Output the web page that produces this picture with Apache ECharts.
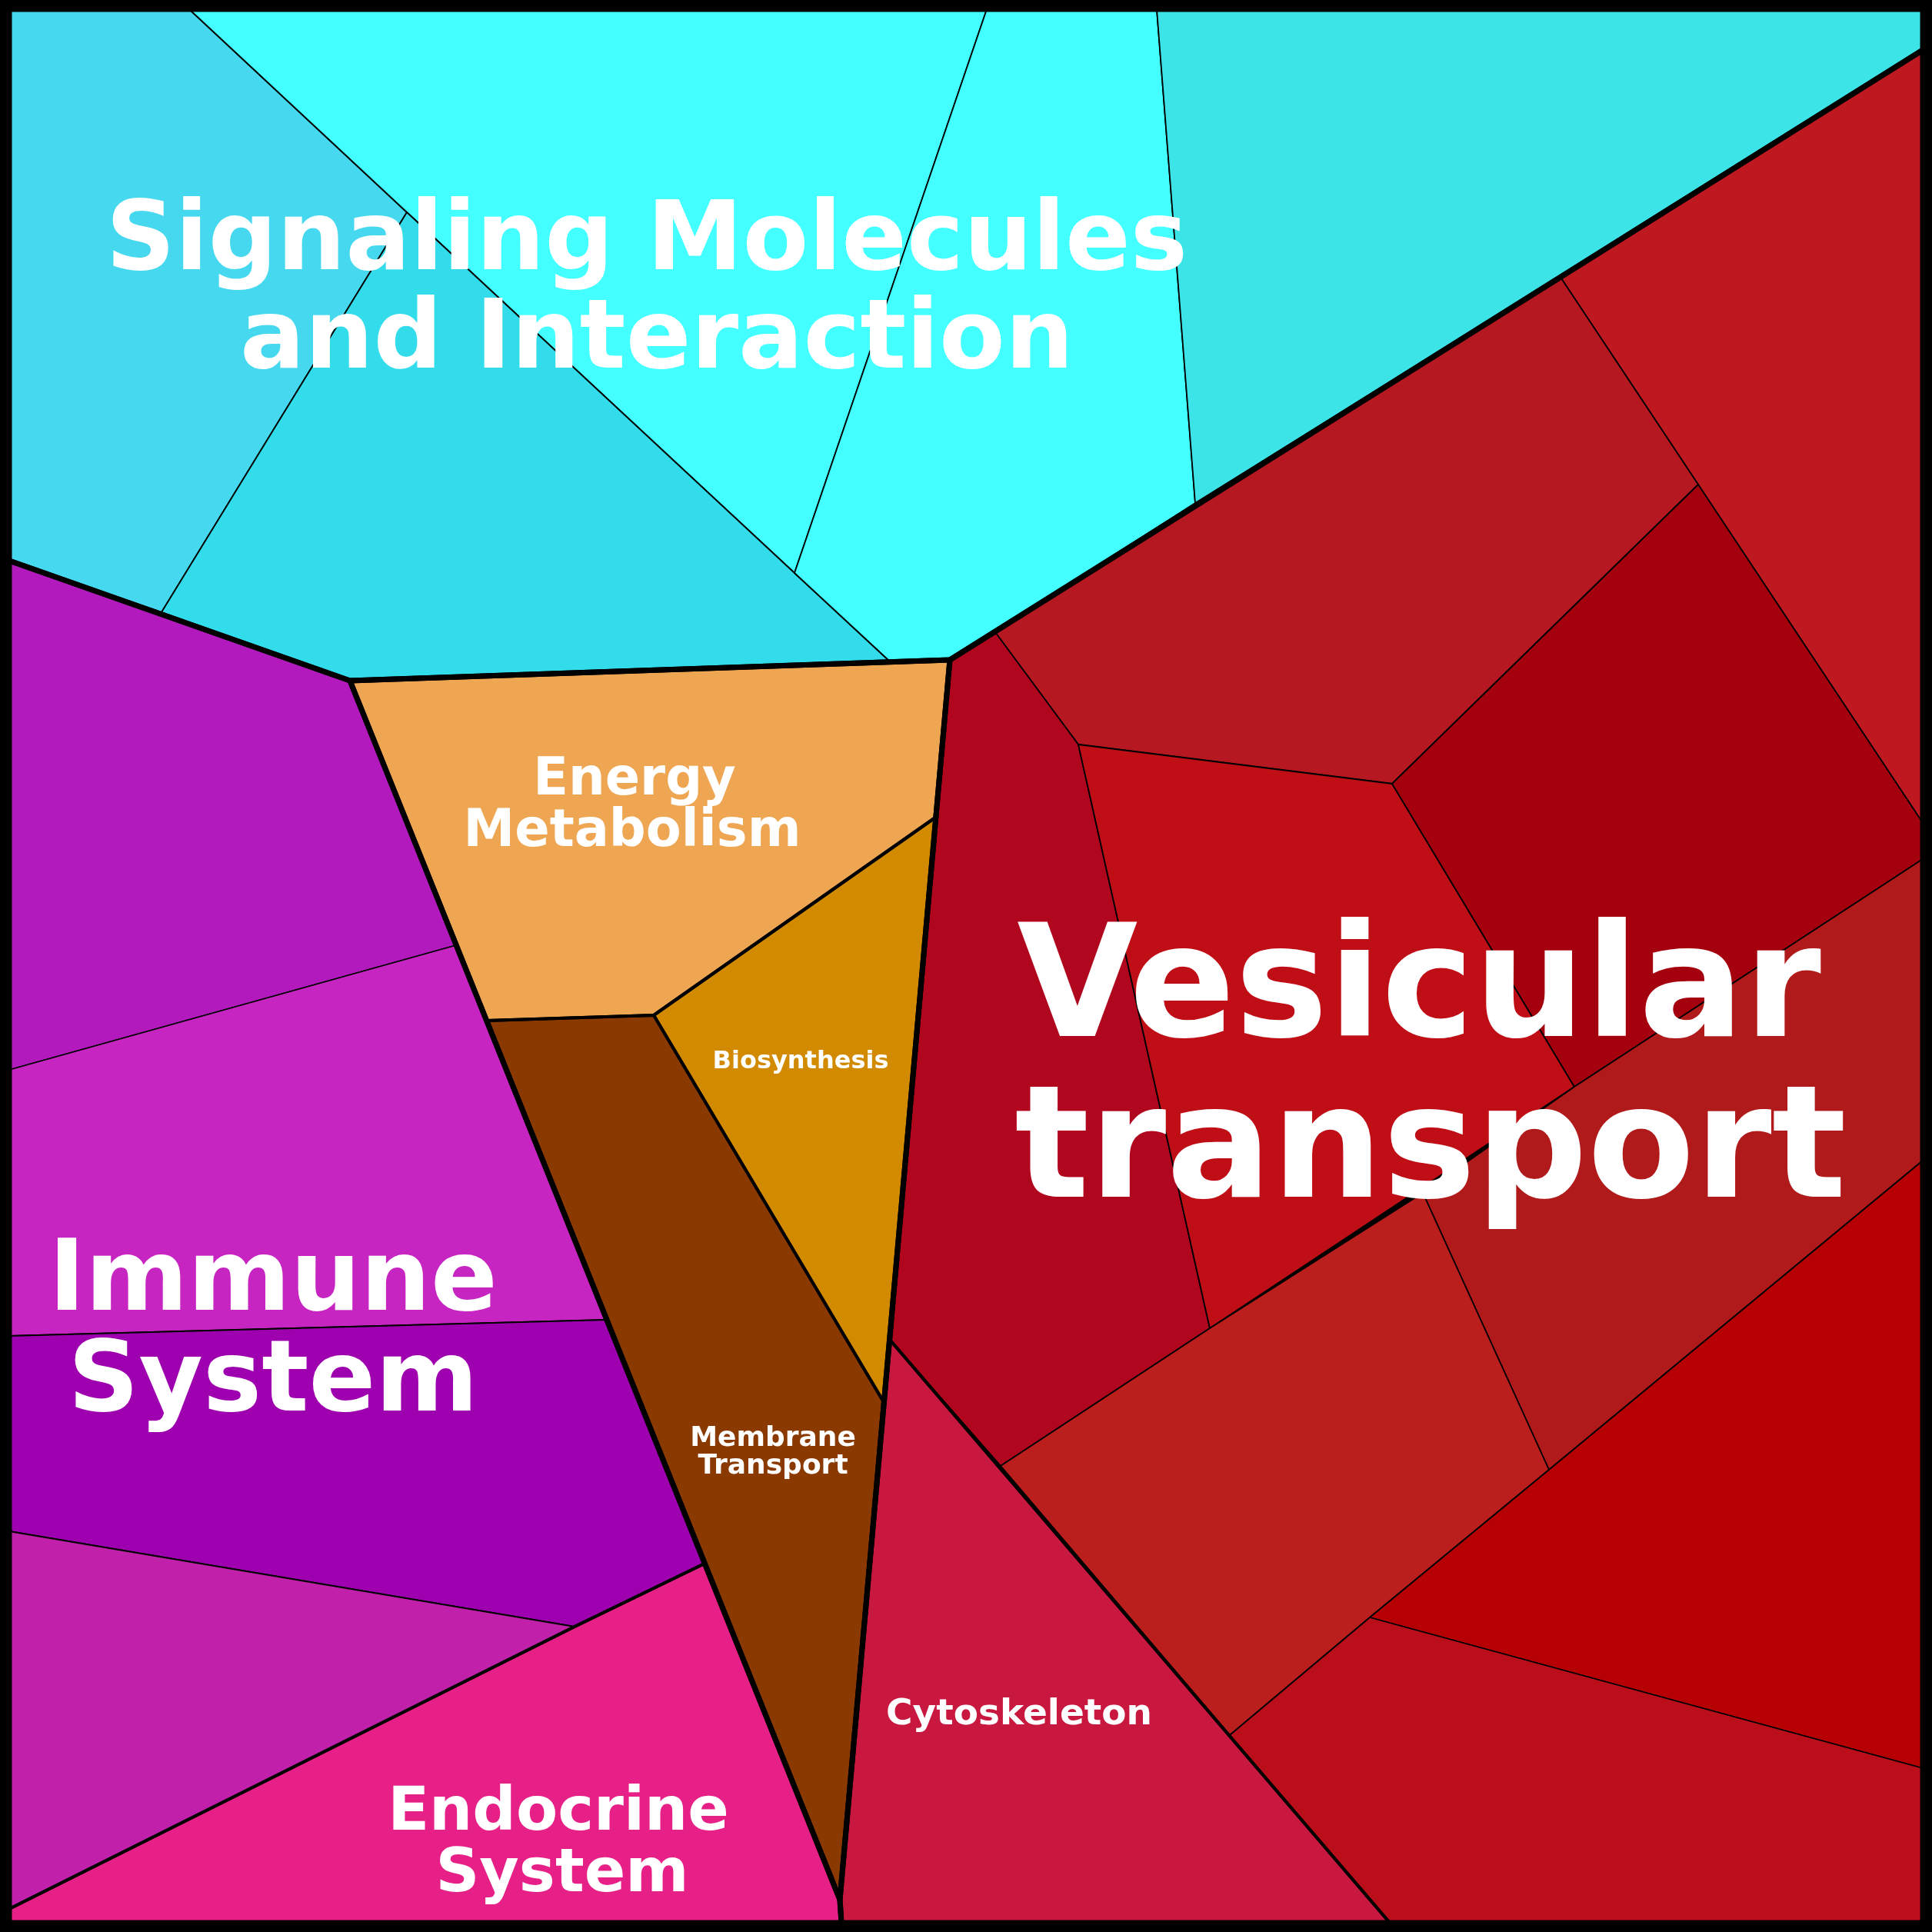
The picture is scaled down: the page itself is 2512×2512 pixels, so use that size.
<!DOCTYPE html>
<html><head><meta charset="utf-8">
<script src="https://cdn.jsdelivr.net/npm/echarts@6/dist/echarts.min.js"></script>
<style>html,body{margin:0;padding:0;background:#000}#c{width:2512px;height:2512px}</style>
</head><body><div id="c"></div>
<script>
// ---- Data: Voronoi treemap cells (vertices in the chart's 0..2512 value space) ----
const leafNames = ['Sig-1','Sig-2','Sig-3','Sig-4','Sig-5',
  'Ves-1','Ves-2','Ves-3','Ves-4','Ves-5','Ves-6','Ves-7','Ves-8','Ves-9',
  'Cytoskeleton','Energy Metabolism','Biosynthesis','Membrane Transport',
  'Imm-1','Imm-2','Imm-3','Imm-4','Endocrine System'];
const leafPolygons = [
  [[12,12],[246,12],[529,276],[210,796],[12,729]],
  [[246,12],[1283,12],[1033,745],[529,276]],
  [[529,276],[1033,745],[1157,860],[455,885],[210,796]],
  [[1283,12],[1504,12],[1554,654],[1235,858],[1157,860],[1033,745]],
  [[1504,12],[2500,12],[2500,65],[1554,654]],
  [[2030,362],[2500,65],[2500,1070],[2208,630]],
  [[1294,822],[2030,362],[2208,630],[1810,1019],[1402,968]],
  [[1235,858],[1294,822],[1402,968],[1573,1727],[1301,1906],[1157,1742]],
  [[1402,968],[1810,1019],[2047,1413],[1573,1727]],
  [[1810,1019],[2208,630],[2500,1070],[2500,1117],[2047,1413]],
  [[2047,1413],[2500,1117],[2500,1509],[2014,1911],[1850,1551]],
  [[1573,1727],[1850,1551],[2014,1911],[1781,2103],[1599,2256],[1301,1906]],
  [[2014,1911],[2500,1509],[2500,2299],[1781,2103]],
  [[1781,2103],[2500,2299],[2500,2500],[1807,2500],[1599,2256]],
  [[1157,1742],[1301,1906],[1599,2256],[1807,2500],[1094,2500],[1092,2470]],
  [[455,885],[1235,858],[1216,1063],[850,1320],[633,1327]],
  [[1216,1063],[850,1320],[1149,1823]],
  [[633,1327],[850,1320],[1149,1823],[1092,2470]],
  [[12,729],[210,796],[455,885],[593,1229],[12,1391]],
  [[12,1391],[593,1229],[789,1716],[12,1737]],
  [[12,1737],[789,1716],[916,2033],[747,2115],[12,1991]],
  [[12,1991],[747,2115],[12,2482]],
  [[747,2115],[916,2033],[1092,2470],[1094,2500],[12,2500],[12,2482]]
];
const leafColors = ['#46D8EE','#44FFFF','#33DCEB','#44FFFF','#3CE4E8',
  '#BE1920','#B51820','#B0061E','#C00E17','#A5000E','#B11A1A','#BA1F1D','#B70003','#BB0E1B',
  '#C8183F','#EEA652','#D28A00','#8A3A00',
  '#B21ABD','#C725C2','#9F00AF','#C020AA','#E62087'];

const subgroupNames = ['Signaling Molecules and Interaction','Vesicular transport','Cytoskeleton',
  'Energy Metabolism','Biosynthesis','Membrane Transport','Immune System','Endocrine System'];
const subgroupPolygons = [
  [[12,12],[2500,12],[2500,65],[1235,858],[455,885],[12,729]],
  [[1235,858],[2500,65],[2500,2500],[1807,2500],[1157,1742]],
  [[1157,1742],[1807,2500],[1094,2500],[1092,2470]],
  [[455,885],[1235,858],[1216,1063],[850,1320],[633,1327]],
  [[1216,1063],[850,1320],[1149,1823]],
  [[633,1327],[850,1320],[1149,1823],[1092,2470]],
  [[12,729],[455,885],[916,2033],[747,2115],[12,2482]],
  [[747,2115],[916,2033],[1092,2470],[1094,2500],[12,2500],[12,2482]]
];
const groupNames = ['Environmental','Cellular Processes','Metabolism','Organismal Systems'];
const groupPolygons = [
  [[12,12],[2500,12],[2500,65],[1235,858],[455,885],[12,729]],
  [[1235,858],[2500,65],[2500,2500],[1094,2500],[1092,2470]],
  [[455,885],[1235,858],[1092,2470]],
  [[12,729],[455,885],[1092,2470],[1094,2500],[12,2500]]
];

// ---- Label layout: one entry per text line (text, anchor, size) ----
const labelLines = ['Signaling Molecules','and Interaction','Vesicular','transport','Immune','System',
  'Energy','Metabolism','Biosynthesis','Membrane','Transport','Cytoskeleton','Endocrine','System'];
const labelLayout = [
  {x:841,y:318,size:125},{x:854,y:446,size:125},
  {x:1845,y:1294,size:203},{x:1860,y:1503,size:203},
  {x:355,y:1670,size:128},{x:355,y:1801,size:128},
  {x:825,y:1016,size:67},{x:822,y:1083,size:67},
  {x:1041,y:1381,size:32},
  {x:1005,y:1871,size:36},{x:1005,y:1907,size:36},
  {x:1325,y:2230,size:47},
  {x:726,y:2358,size:79},{x:731,y:2438,size:79}
];

function polySeries(polys, fills, lw) {
  return {
    type: 'custom', coordinateSystem: 'cartesian2d', silent: true,
    data: polys.map((p, i) => [p[0][0], p[0][1], i]),
    renderItem: function (params, api) {
      const i = params.dataIndex;
      return {
        type: 'polygon',
        shape: { points: polys[i].map(pt => api.coord(pt)) },
        style: { fill: fills ? fills[i] : 'none', stroke: '#000', lineWidth: lw, lineJoin: 'round' }
      };
    }
  };
}

const chart = echarts.init(document.getElementById('c'), null, {renderer: 'canvas'});
chart.setOption({
  backgroundColor: '#000',
  animation: false,
  grid: {left: 0, right: 0, top: 0, bottom: 0},
  xAxis: {type: 'value', min: 0, max: 2512, show: false},
  yAxis: {type: 'value', min: 0, max: 2512, inverse: true, show: false},
  series: [
    polySeries(leafPolygons, leafColors, 1.8),
    polySeries(subgroupPolygons, null, 4),
    polySeries(groupPolygons, null, 7),
    {
      type: 'custom', coordinateSystem: 'cartesian2d', silent: true,
      data: labelLayout.map((l, i) => [l.x, l.y, i]),
      renderItem: function (params, api) {
        const i = params.dataIndex, l = labelLayout[i];
        const c = api.coord([l.x, l.y]);
        const off = Math.max(1.5, l.size * 0.025);
        return {
          type: 'text', x: c[0], y: c[1],
          style: {
            text: labelLines[i], fill: '#fff',
            font: 'bold ' + l.size + 'px "DejaVu Sans"',
            align: 'center', verticalAlign: 'middle',
            shadowColor: '#000', shadowOffsetX: off, shadowOffsetY: off, shadowBlur: 0
          }
        };
      }
    }
  ]
});
</script>
</body></html>
